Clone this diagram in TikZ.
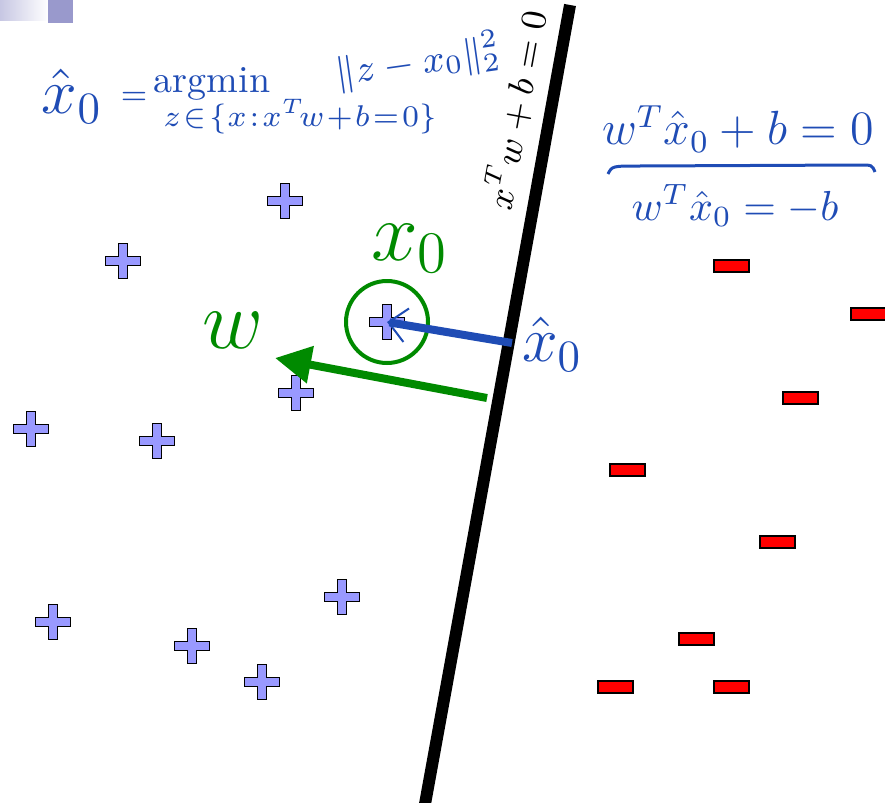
\RequirePackage{fix-cm}
\documentclass[tikz,border=0pt]{standalone}
\usepackage{tikz}
\usetikzlibrary{arrows.meta,positioning}
\definecolor{MarkBlue}{HTML}{9999FF}
\definecolor{InkBlue}{HTML}{1F4CB5}
\definecolor{VecGreen}{HTML}{008A00}
\definecolor{BarLilac}{HTML}{9999CC}
\begin{document}
\begin{tikzpicture}[
  x=0.25pt,y=-0.25pt,
  plus/.style={fill=MarkBlue,draw=black,line width=0.4pt,line join=miter},
  minus/.style={rectangle,fill=red,draw=black,line width=0.5pt,
    minimum width=8.75pt,minimum height=3pt,inner sep=0pt},
  ink/.style={text=InkBlue,inner sep=0pt},
  vector/.style={-{Triangle[length=9pt,width=9pt]},line width=2pt,draw=VecGreen},
  inkarrow/.style={-{Straight Barb[length=4.5pt,width=8.5pt,line width=0.5pt]},
    line width=2pt,draw=InkBlue},
  plane/.style={line width=3pt,draw=black}
]
\useasboundingbox (0,0) rectangle (885,802);
\shade[left color=BarLilac!55,right color=white] (0,0) rectangle (48,21);
\fill[BarLilac] (48,0) rectangle (73,23);
\coordinate (top) at (570,5);
\coordinate (bot) at (423,815);
\draw[plane] (top) -- (bot);
\node[rotate=79.7,font=\fontsize{9}{11}\selectfont] (planelab) at (515,110) {$x^T w + b = 0$};
\foreach \n/\x/\y in {p1/285/201,p2/123/261,p3/387/322,p4/296/393,p5/31/429,
  p6/157/441,p7/342/597,p8/53/622,p9/192/646,p10/262/682}{
  \coordinate (\n) at (\x,\y);
  \draw[plus,shift={(\x,\y)}] (-17.5,-4.5) -- (-4.5,-4.5) -- (-4.5,-17.5) -- (4.5,-17.5)
    -- (4.5,-4.5) -- (17.5,-4.5) -- (17.5,4.5) -- (4.5,4.5) -- (4.5,17.5) -- (-4.5,17.5)
    -- (-4.5,4.5) -- (-17.5,4.5) -- cycle;
}
\foreach \n/\x/\y in {m1/731/266,m2/868/314,m3/800/398,m4/627/470,m5/777/542,
  m6/696/639,m7/615/687,m8/731/687}
  \node[minus] (\n) at (\x,\y) {};
\node[circle,draw=VecGreen,line width=1pt,minimum size=20.5pt,inner sep=0pt] (ring) at (p3) {};
\node[text=VecGreen,font=\fontsize{21}{25}\selectfont,anchor=base] (xlab) at (410,260) {$x_0$};
\node[text=VecGreen,font=\fontsize{21}{25}\selectfont,anchor=base] (wlab) at (233,348) {$w$};
\coordinate (foot) at (487,398);
\coordinate (head) at (275,358);
\draw[vector] (foot) -- (head);
\coordinate (proj) at (512,343);
\draw[inkarrow] (proj) -- (p3);
\node[ink,font=\fontsize{16}{19}\selectfont] (xhatlab) at (552,344) {$\hat{x}_0$};
\node[ink,font=\fontsize{16}{19}\selectfont] (xhat) at (72,96) {$\hat{x}_0$};
\node[ink,font=\fontsize{8}{10}\selectfont] (eq) at (134,98) {$=$};
\node[ink,font=\fontsize{9.5}{11}\selectfont,anchor=base] (argmin) at (212,93) {argmin};
\node[ink,font=\fontsize{9.5}{12}\selectfont,rotate=8] (norm) at (418,62) {$\|z-x_0\|_2^2$};
\node[ink,font=\fontsize{7.5}{9}\selectfont] (zset) at (300,117)
  {\medmuskip=1mu\thickmuskip=1.5mu$z\in\{x:x^T\!w+b=0\}$};
\node[ink,font=\fontsize{12}{14}\selectfont,anchor=base] (cond) at (738,145) {$w^T\hat{x}_0+b=0$};
\draw[InkBlue,line width=0.75pt] (608,174) .. controls (612,166) .. (640,166) -- (860,165)
  .. controls (872,165) .. (875,172);
\node[ink,font=\fontsize{10.5}{12}\selectfont,anchor=base] (solve) at (735,220) {$w^T\hat{x}_0=-b$};
\end{tikzpicture}
\end{document}
